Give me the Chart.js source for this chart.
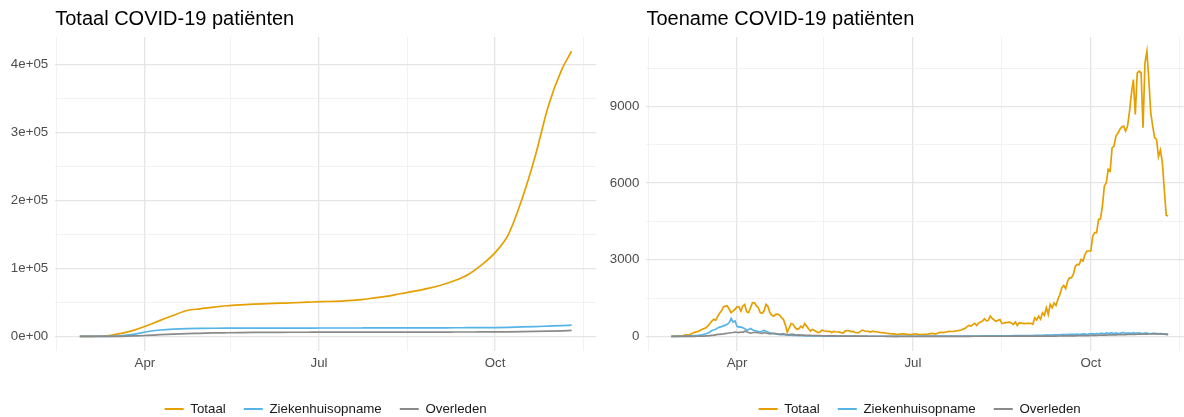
<!DOCTYPE html>
<html>
<head>
<meta charset="utf-8">
<script src="https://cdn.jsdelivr.net/npm/chart.js@4"></script>
<style>
  html, body { margin: 0; padding: 0; background: #fff; overflow: hidden; }
  #wrap { position: relative; width: 1184px; height: 417px; overflow: hidden; }
  .paneel { position: absolute; top: 0; width: 600px; height: 417px; }
</style>
</head>
<body>
<div id="wrap">
  <div class="paneel" style="left:0"><canvas id="chart-1" width="600" height="417"></canvas></div>
  <div class="paneel" style="left:600px"><canvas id="chart-2" width="600" height="417"></canvas></div>
</div>
<script>
// Reeksen
const reeksNamen = ["Totaal", "Ziekenhuisopname", "Overleden"];
const kleuren = ["#E69F00", "#56B4E9", "#8a8a8a"];

// dagelijkse toename, vanaf 27 februari 2020 t/m 10 november 2020
const startDatum = "2020-02-27";
const toenameTotaal = [
  1, 2, 5, 8, 12, 20, 30, 45, 55, 60,
  80, 120, 155, 175, 190, 240, 280, 300, 345, 410,
  500, 600, 665, 630, 780, 900, 1000, 1150, 1180, 1190,
  1060, 930, 1000, 1060, 1150, 1150, 990, 1190, 1250, 965,
  930, 1120, 1310, 1320, 1200, 1120, 930, 900, 990, 1250,
  1170, 930, 820, 790, 860, 870, 840, 730, 670, 450,
  160, 330, 500, 470, 350, 280, 300, 400, 340, 500,
  400, 300, 210, 270, 230, 190, 145, 170, 245, 210,
  200, 195, 195, 150, 195, 180, 170, 165, 145, 130,
  215, 225, 220, 185, 195, 150, 140, 145, 205, 245,
  210, 200, 195, 170, 205, 185, 180, 170, 150, 145,
  140, 125, 115, 105, 100, 95, 85, 80, 85, 95,
  100, 90, 80, 70, 65, 75, 100, 90, 70, 65,
  70, 75, 80, 90, 105, 115, 95, 100, 130, 155,
  160, 150, 170, 185, 195, 190, 195, 205, 220, 235,
  250, 290, 310, 380, 430, 400, 460, 510, 430, 520,
  560, 600, 690, 610, 630, 790, 700, 640, 590, 630,
  660, 510, 520, 535, 550, 560, 510, 470, 560, 430,
  530, 520, 510, 500, 510, 505, 510, 470, 730, 640,
  790, 670, 920, 820, 1120, 860, 1250, 1120, 1310, 1210,
  1450, 1640, 1900, 1990, 1870, 2160, 2290, 2300, 2430, 2750,
  2820, 2810, 3010, 2950, 3210, 3340, 3340, 3340, 3920, 4060,
  4060, 4580, 4600, 5100, 5880, 6010, 6540, 6470, 7380, 7450,
  7840, 7950, 8100, 8200, 8230, 8030, 8230, 8800, 9500, 10050,
  8690, 10300, 10380, 10320, 8170, 10700, 11160, 10050, 8750, 8230,
  7780, 7710, 7030, 7290, 6800, 5750, 4740, 4710
];
const toenameZiekenhuis = [
  0, 0, 0, 1, 2, 3, 4, 5, 8, 10,
  15, 20, 25, 30, 40, 50, 60, 80, 100, 130,
  170, 230, 250, 280, 330, 360, 380, 410, 440, 470,
  540, 700, 560, 600, 390, 360, 370, 340, 300, 240,
  270, 310, 260, 230, 210, 190, 180, 200, 230, 200,
  170, 140, 120, 110, 100, 90, 80, 70, 65, 60,
  55, 50, 45, 40, 40, 35, 30, 30, 25, 25,
  22, 20, 18, 18, 16, 15, 15, 14, 12, 12,
  10, 10, 10, 9, 9, 8, 8, 8, 7, 7,
  6, 6, 6, 5, 5, 5, 5, 4, 4, 4,
  4, 4, 4, 3, 3, 3, 3, 3, 3, 3,
  3, 3, 3, 3, 3, 2, 2, 2, 3, 3,
  3, 3, 3, 3, 3, 3, 4, 4, 4, 4,
  4, 5, 5, 5, 5, 5, 6, 6, 6, 6,
  7, 7, 7, 8, 8, 8, 9, 9, 9, 10,
  10, 10, 11, 11, 12, 12, 13, 13, 14, 14,
  15, 15, 16, 16, 17, 17, 18, 18, 19, 19,
  20, 20, 21, 22, 22, 23, 24, 25, 25, 26,
  27, 28, 29, 30, 30, 32, 33, 34, 35, 36,
  38, 40, 42, 44, 45, 47, 50, 52, 55, 58,
  60, 62, 65, 68, 70, 73, 75, 78, 80, 82,
  85, 70, 90, 88, 95, 60, 100, 95, 105, 80,
  110, 100, 115, 120, 95, 130, 110, 125, 140, 100,
  135, 120, 110, 140, 150, 115, 130, 125, 110, 145,
  120, 130, 140, 115, 110, 125, 130, 110, 100, 120,
  115, 105, 95, 110, 100, 90, 85, 60
];
const toenameOverleden = [
  0, 0, 0, 0, 0, 0, 0, 0, 0, 0,
  0, 1, 2, 3, 4, 5, 8, 10, 15, 20,
  30, 40, 45, 60, 75, 80, 90, 95, 110, 120,
  130, 140, 150, 165, 160, 150, 170, 160, 200, 180,
  150, 130, 140, 160, 150, 140, 130, 120, 140, 130,
  110, 100, 110, 120, 110, 90, 80, 90, 100, 80,
  60, 70, 80, 75, 60, 50, 55, 50, 45, 40,
  40, 38, 35, 33, 30, 28, 26, 25, 23, 22,
  20, 19, 18, 17, 16, 15, 14, 13, 12, 11,
  10, 10, 9, 9, 8, 8, 7, 7, 6, 6,
  5, 5, 4, 4, 4, 4, 3, 3, 3, 3,
  3, 2, 2, 2, 2, 2, 2, 2, 2, 2,
  2, 2, 2, 2, 2, 2, 2, 2, 2, 2,
  2, 2, 2, 2, 2, 2, 2, 2, 2, 2,
  2, 2, 2, 2, 2, 2, 2, 2, 2, 2,
  2, 2, 2, 2, 2, 2, 3, 3, 3, 3,
  3, 3, 3, 3, 3, 3, 3, 3, 3, 4,
  4, 4, 4, 4, 4, 4, 5, 5, 5, 5,
  5, 5, 5, 6, 6, 6, 6, 7, 7, 7,
  8, 8, 8, 9, 9, 10, 10, 11, 12, 12,
  13, 14, 15, 16, 17, 18, 19, 20, 21, 22,
  23, 24, 25, 26, 28, 30, 32, 34, 36, 38,
  40, 42, 44, 46, 48, 50, 52, 54, 56, 58,
  60, 62, 64, 66, 68, 70, 72, 74, 76, 78,
  80, 82, 84, 85, 86, 88, 90, 92, 94, 95,
  96, 97, 98, 95, 90, 85, 80, 75
];

const cumulDatums = [
  "2020-02-27", "2020-03-05", "2020-03-12", "2020-03-19", "2020-03-26",
  "2020-04-02", "2020-04-09", "2020-04-16", "2020-04-23", "2020-04-30",
  "2020-05-07", "2020-05-14", "2020-05-21", "2020-05-28", "2020-06-04",
  "2020-06-11", "2020-06-18", "2020-06-25", "2020-07-02", "2020-07-09",
  "2020-07-16", "2020-07-23", "2020-07-30", "2020-08-06", "2020-08-13",
  "2020-08-20", "2020-08-27", "2020-09-03", "2020-09-10", "2020-09-17",
  "2020-09-24", "2020-10-01", "2020-10-08", "2020-10-15", "2020-10-22",
  "2020-10-29", "2020-11-05", "2020-11-10"
];
const totaalCumul = [
  0, 100, 700, 4000, 8800, 15500, 23500, 31000, 38000, 40500,
  43000, 45000, 46300, 47300, 48000, 48700, 49400, 50200, 51000, 51500,
  52500, 54000, 56500, 59000, 63000, 66500, 70500, 75500, 82000, 91000,
  105000, 123000, 150000, 201000, 265000, 340000, 393000, 419000
];
const ziekenhuisCumul = [
  0, 0, 50, 600, 2800, 6800, 9300, 10700, 11400, 11700,
  11900, 12000, 12050, 12100, 12150, 12150, 12200, 12200, 12250, 12250,
  12300, 12300, 12350, 12400, 12400, 12450, 12500, 12550, 12600, 12700,
  12800, 12950, 13300, 13800, 14400, 15100, 15800, 16400
];
const overledenCumul = [
  0, 0, 5, 100, 550, 1400, 2400, 3300, 4000, 4500,
  5000, 5300, 5550, 5750, 5850, 5950, 6000, 6050, 6100, 6100,
  6150, 6150, 6200, 6200, 6250, 6250, 6300, 6300, 6350, 6400,
  6450, 6550, 6700, 6900, 7200, 7600, 8100, 8700
];

// as-labels
const maandDatums = ["2020-04-01", "2020-07-01", "2020-10-01"];
const maandLabels = ["Apr", "Jul", "Oct"];
const tussenDatums = ["2020-02-15", "2020-05-16", "2020-08-16", "2020-11-16"];
const yLinksWaarden = [0, 100000, 200000, 300000, 400000];
const yLinksLabels = ["0e+00", "1e+05", "2e+05", "3e+05", "4e+05"];
const yRechtsWaarden = [0, 3000, 6000, 9000];
const yRechtsLabels = ["0", "3000", "6000", "9000"];

const FONT = "'Liberation Sans', Arial, Helvetica, sans-serif";
Chart.defaults.font.family = FONT;

const dagIndex = d => Math.round((Date.parse(d) - Date.parse(startDatum)) / 864e5);
const maandDagen = maandDatums.map(dagIndex);
const xTicks = maandDagen.concat(tussenDatums.map(dagIndex)).sort((a, b) => a - b);
const laatsteDag = toenameTotaal.length - 1;

function reeks(waarden, dagen) {
  return waarden.map((v, i) => ({ x: dagen ? dagen[i] : i, y: v }));
}

function maakDatasets(lijsten, dagen, glad) {
  return lijsten.map((w, i) => ({
    label: reeksNamen[i],
    data: reeks(w, dagen),
    borderColor: kleuren[i],
    backgroundColor: kleuren[i],
    borderWidth: 1.7,
    pointRadius: 0,
    fill: false,
    order: 3 - i,
    cubicInterpolationMode: glad ? "monotone" : "default",
    tension: 0
  }));
}

function maakOpties(titel, yMajor, yLabels, yMin, yMax, yStap, yBreedte, rechts) {
  const yTicks = [];
  for (let v = 0; v <= yMax; v += yStap) yTicks.push(v);
  const tekst = { size: 13.3, family: FONT };
  return {
    responsive: false,
    animation: false,
    layout: { padding: { left: 0, right: rechts, top: 0, bottom: -8.6 } },
    plugins: {
      title: {
        display: true, text: titel, align: "start", fullSize: false,
        color: "#000", font: { size: 20, family: FONT, weight: "normal" },
        padding: { top: 7, bottom: 6 }
      },
      legend: {
        position: "bottom", fullSize: false,
        labels: {
          usePointStyle: true, pointStyle: "line", pointStyleWidth: 19,
          color: "#1a1a1a", font: tekst, padding: 18,
          sort: (a, b) => a.datasetIndex - b.datasetIndex,
          generateLabels: ch => Chart.defaults.plugins.legend.labels.generateLabels(ch)
            .map(l => Object.assign(l, { lineWidth: 2 }))
        }
      },
      tooltip: { enabled: false }
    },
    scales: {
      x: {
        type: "linear",
        min: -0.05 * laatsteDag, max: laatsteDag * 1.05,
        afterBuildTicks: s => { s.ticks = xTicks.map(v => ({ value: v })); },
        afterFit: s => { s.height = 33.7; },
        ticks: {
          autoSkip: false, maxRotation: 0, padding: 4.5, color: "#4d4d4d", font: tekst,
          callback: v => { const i = maandDagen.indexOf(v); return i >= 0 ? maandLabels[i] : ""; }
        },
        grid: {
          drawTicks: false,
          color: c => maandDagen.includes(c.tick.value) ? "#e5e5e5" : "#ececec",
          lineWidth: c => maandDagen.includes(c.tick.value) ? 1.3 : 0.7
        },
        border: { display: false }
      },
      y: {
        min: yMin, max: yMax,
        afterBuildTicks: s => { s.ticks = yTicks.map(v => ({ value: v })); },
        afterFit: s => { s.width = yBreedte; },
        ticks: {
          padding: 7, color: "#4d4d4d", font: tekst,
          callback: v => { const i = yMajor.indexOf(v); return i >= 0 ? yLabels[i] : ""; }
        },
        grid: {
          drawTicks: false,
          color: c => yMajor.includes(c.tick.value) ? "#e5e5e5" : "#ececec",
          lineWidth: c => yMajor.includes(c.tick.value) ? 1.3 : 0.7
        },
        border: { display: false }
      }
    }
  };
}

// Grafiek 1: totaal (cumulatief)
const cumulDagen = cumulDatums.map(dagIndex);
const maxLinks = Math.max(...totaalCumul);
new Chart(document.getElementById("chart-1").getContext("2d"), {
  type: "line",
  data: { datasets: maakDatasets([totaalCumul, ziekenhuisCumul, overledenCumul], cumulDagen, true) },
  options: maakOpties("Totaal COVID-19 patiënten", yLinksWaarden, yLinksLabels,
    -0.05 * maxLinks, maxLinks * 1.05, 50000, 55.2, 3.8)
});

// Grafiek 2: toename per dag
const maxRechts = Math.max(...toenameTotaal);
new Chart(document.getElementById("chart-2").getContext("2d"), {
  type: "line",
  data: { datasets: maakDatasets([toenameTotaal, toenameZiekenhuis, toenameOverleden], null, false) },
  options: maakOpties("Toename COVID-19 patiënten", yRechtsWaarden, yRechtsLabels,
    -0.05 * maxRechts, maxRechts * 1.05, 1500, 46.4, 7)
});
</script>
</body>
</html>
